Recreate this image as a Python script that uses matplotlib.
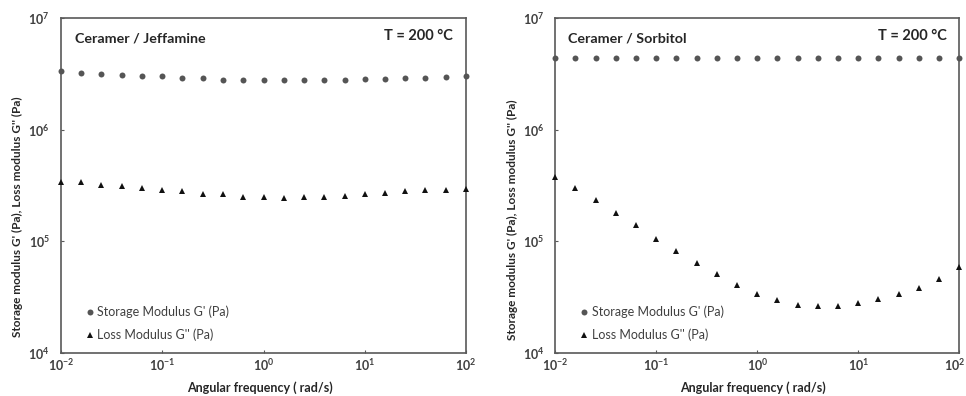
import numpy as np
import matplotlib
matplotlib.use("Agg")
import matplotlib.pyplot as plt
from matplotlib.ticker import FuncFormatter, LogLocator, NullLocator

plt.rcParams['font.family'] = ['Lato', 'DejaVu Sans']
plt.rcParams['mathtext.fontset'] = 'custom'
plt.rcParams['mathtext.rm'] = 'Lato:bold'
plt.rcParams['mathtext.bf'] = 'Lato:bold'
plt.rcParams['mathtext.it'] = 'Lato:bold'
plt.rcParams['mathtext.default'] = 'bf'

# ---- data ----
freq = [0.01, 0.0158, 0.0251, 0.0398, 0.0631, 0.1, 0.158, 0.251, 0.398, 0.631,
        1.0, 1.58, 2.51, 3.98, 6.31, 10.0, 15.8, 25.1, 39.8, 63.1, 100.0]

jeff_Gp = [3.33e6, 3.21e6, 3.17e6, 3.09e6, 3.01e6, 3.01e6, 2.91e6, 2.87e6, 2.81e6, 2.79e6,
           2.79e6, 2.79e6, 2.79e6, 2.79e6, 2.79e6, 2.82e6, 2.82e6, 2.87e6, 2.91e6, 2.94e6, 3.01e6]
jeff_Gpp = [3.40e5, 3.40e5, 3.19e5, 3.11e5, 2.98e5, 2.90e5, 2.79e5, 2.67e5, 2.64e5, 2.50e5,
            2.48e5, 2.46e5, 2.50e5, 2.51e5, 2.56e5, 2.64e5, 2.71e5, 2.79e5, 2.86e5, 2.86e5, 2.94e5]

sorb_Gp = [4.40e6, 4.40e6, 4.38e6, 4.38e6, 4.38e6, 4.38e6, 4.38e6, 4.38e6, 4.38e6, 4.38e6,
           4.38e6, 4.38e6, 4.38e6, 4.38e6, 4.40e6, 4.40e6, 4.40e6, 4.40e6, 4.40e6, 4.40e6, 4.40e6]
sorb_Gpp = [3.74e5, 2.98e5, 2.34e5, 1.78e5, 1.40e5, 1.05e5, 8.2e4, 6.33e4, 5.04e4, 4.02e4,
            3.36e4, 2.95e4, 2.67e4, 2.62e4, 2.64e4, 2.77e4, 3.00e4, 3.33e4, 3.83e4, 4.58e4, 5.83e4]

panel_titles = ["Ceramer / Jeffamine", "Ceramer / Sorbitol"]
temp_label = "T = 200 °C"
legend_labels = ["Storage Modulus G' (Pa)", "Loss Modulus G'' (Pa)"]
ylabel = "Storage modulus G' (Pa), Loss modulus G'' (Pa)"
xlabel = "Angular frequency ( rad/s)"

W, H = 966, 396
fig = plt.figure(figsize=(W / 100, H / 100), dpi=100)

spine_c = '#595959'
text_c = '#404040'

axes_px = [(61, 466), (555.3, 959.3)]
top_px, bot_px = 18, 352.7
ylabel_px = [(17, 217), (512, 220)]
title_left = [0.035, 0.031]
temp_right = [0.968, 0.970]

datasets = [(jeff_Gp, jeff_Gpp), (sorb_Gp, sorb_Gpp)]

def exp_label(v):
    e = int(round(np.log10(v)))
    return r'$10^{%d}$' % e

def fmt(v, pos):
    return exp_label(v)

def fmt_right_x(v, pos):
    # the last label of the right panel is drawn separately to keep it inside the figure
    if v >= 99:
        return ''
    return exp_label(v)

for i, ((x0, x1), (gp, gpp)) in enumerate(zip(axes_px, datasets)):
    ax = fig.add_axes([x0 / W, 1 - bot_px / H, (x1 - x0) / W, (bot_px - top_px) / H])
    ax.set_xscale('log')
    ax.set_yscale('log')
    ax.set_xlim(1e-2, 1e2)
    ax.set_ylim(1e4, 1e7)
    ax.plot(freq, gp, 'o', color='#555555', markersize=4.3, markeredgewidth=0,
            clip_on=False, label=legend_labels[0], zorder=3)
    ax.plot(freq, gpp, '^', color='#111111', markersize=5.0, markeredgewidth=0,
            clip_on=False, label=legend_labels[1], zorder=3)
    for s in ax.spines.values():
        s.set_color(spine_c)
        s.set_linewidth(1.2)
    ax.xaxis.set_major_locator(LogLocator(base=10, numticks=10))
    ax.yaxis.set_major_locator(LogLocator(base=10, numticks=10))
    ax.xaxis.set_minor_locator(NullLocator())
    ax.yaxis.set_minor_locator(NullLocator())
    ax.xaxis.set_major_formatter(FuncFormatter(fmt if i == 0 else fmt_right_x))
    ax.yaxis.set_major_formatter(FuncFormatter(fmt))
    ax.tick_params(axis='both', direction='in', length=2.5, width=0.8, color=spine_c,
                   labelsize=9, labelcolor=text_c)
    ax.tick_params(axis='y', pad=8)
    ax.tick_params(axis='x', pad=3)
    if i == 1:
        xmax = ax.get_xlim()[1]
        ax.annotate(exp_label(xmax), xy=(xmax, 0), xycoords=('data', 'axes fraction'),
                    xytext=(-3, -3.5), textcoords='offset points', ha='center', va='top',
                    fontsize=9, color=text_c, annotation_clip=False)
    ax.text(title_left[i], 0.94, panel_titles[i], transform=ax.transAxes,
            fontsize=10.3, fontweight='bold', color='#262626', ha='left', va='center')
    ax.text(temp_right[i], 0.945, temp_label, transform=ax.transAxes,
            fontsize=10.5, fontweight='bold', color='#262626', ha='right', va='center')
    leg = ax.legend(loc='lower left', bbox_to_anchor=(0.062, 0.035), frameon=False,
                    fontsize=9, handlelength=0.6, handletextpad=0.3, labelspacing=0.8,
                    borderaxespad=0, borderpad=0)
    for t in leg.get_texts():
        t.set_color(text_c)
    fig.text((x0 + x1) / 2 / W - 0.004, 1 - 388 / H, xlabel, fontsize=9, fontweight='bold',
             color='#262626', ha='center', va='center')
    lx, ly = ylabel_px[i]
    fig.text(lx / W, 1 - ly / H, ylabel, rotation=90, fontsize=8.5, fontweight='bold',
             color='#262626', ha='center', va='center')

fig.savefig('out.png', dpi=100, facecolor='white')
